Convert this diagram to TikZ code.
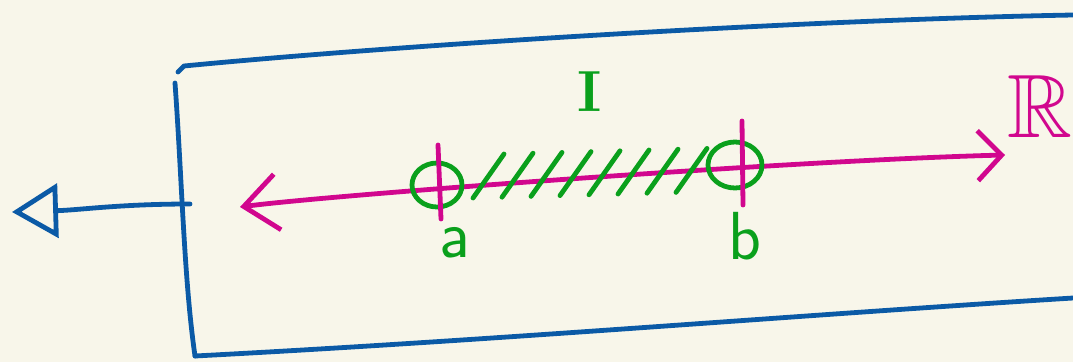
\documentclass[tikz,border=0pt]{standalone}
\usepackage{amssymb}
\usetikzlibrary{arrows.meta}

\definecolor{paper}{HTML}{F8F6EA}
\definecolor{inkblue}{HTML}{0B5AA6}
\definecolor{inkpink}{HTML}{D1078E}
\definecolor{inkgreen}{HTML}{0AA01C}

\begin{document}
\begin{tikzpicture}[x=1pt, y=-1pt, line cap=round, line join=round,
  pen/.style={line width=4.8pt},
  boxline/.style={pen, draw=inkblue},
  realline/.style={pen, draw=inkpink, {Straight Barb[length=34pt, width=56pt]}-{Straight Barb[length=24pt, width=50pt]}},
  tick/.style={pen, draw=inkpink},
  green/.style={pen, draw=inkgreen},
  lbl/.style={text=inkgreen, inner sep=0pt, font=\sffamily\fontsize{68}{68}\selectfont}]
\path[fill=paper, use as bounding box] (0,0) rectangle (1073,362);

% the box, open to the right
\draw[boxline] (178,72) -- (184,66) .. controls (400,45) and (800,20) .. (1073,15);
\draw[boxline] (195,356) .. controls (500,340) and (800,315) .. (1073,298);
\draw[boxline] (175,83) .. controls (182,180) and (184,280) .. (195,356);

% arrow out of the box
\coordinate (stem) at (190,204);
\coordinate (tip) at (12,212);
\draw[boxline, -{Triangle[open, length=46pt, width=54pt]}] (stem) .. controls (120,204) and (80,210) .. (tip);

% the real line
\coordinate (rl) at (240,207);
\coordinate (rr) at (1005,155);
\coordinate (pa) at (437,185);
\coordinate (pb) at (735,165);
\draw[realline] (rl) .. controls (330,195) and (800,160) .. (rr);
\node[text=inkpink, inner sep=0pt, font=\fontsize{90}{90}\selectfont] (R) at (1040,106) {$\mathbb{R}$};

% the interval
\draw[green] (pa) ellipse (25 and 22);
\draw[green] (pb) ellipse (27 and 23);
\draw[tick] (438,145) -- (441,219);
\draw[tick] (742,121) -- (743,205);
\foreach \i in {0,...,7}
  \draw[green] ({473+29*\i},{198-0.8*\i}) -- ++(31,-44);

\node[lbl] (la) at (455,243) {a};
\node[lbl] (lb) at (745,236) {b};
\node[lbl, font=\rmfamily\bfseries\fontsize{58}{58}\selectfont] (I) at (590,92) {I};
\end{tikzpicture}
\end{document}
